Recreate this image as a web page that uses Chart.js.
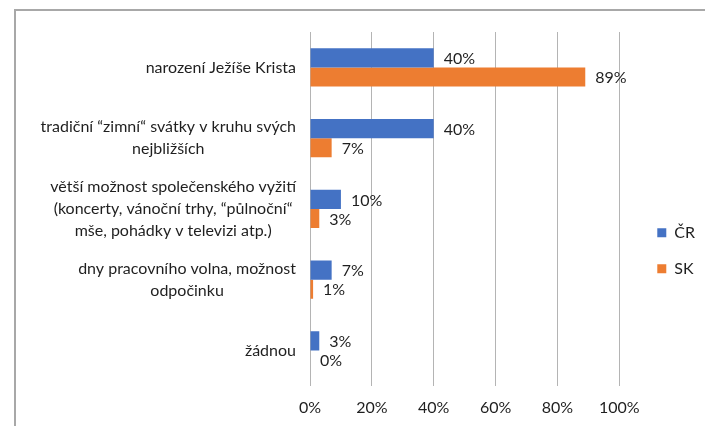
<!DOCTYPE html>
<html>
<head>
<meta charset="utf-8">
<script src="https://cdn.jsdelivr.net/npm/chart.js@4"></script>
<style>
html, body { margin: 0; padding: 0; background: #fff; overflow: hidden; }
#wrap { position: relative; width: 705px; height: 426px; overflow: hidden; }
#frame { position: absolute; left: 14px; top: 9px; width: 760px; height: 500px; border: 2px solid #a8a8a8; box-sizing: border-box; }
#chart { position: absolute; left: 0; top: 0; }
</style>
</head>
<body>
<div id="wrap">
  <div id="frame"></div>
  <canvas id="chart" width="705" height="438"></canvas>
</div>
<script>
// kategorie (víceřádkové popisky)
const categories = [
    ["narození Ježíše Krista"],
    ["tradiční “zimní“ svátky v kruhu svých", "nejbližších"],
    ["větší možnost společenského vyžití", "(koncerty, vánoční trhy, “půlnoční“", "mše, pohádky v televizi atp.)"],
    ["dny pracovního volna, možnost", "odpočinku"],
    ["žádnou"]
];
const seriesNames = ["ČR", "SK"];
const valuesCR = [40, 40, 10, 7, 3];
const valuesSK = [89, 7, 3, 1, 0];
const xTicks = [0, 20, 40, 60, 80, 100];

const FONT = "Lato";
const TEXT = "#1f1f1f";

// popisky kategorií - řádky centrované v bloku, blok zarovnaný vpravo
const categoryLabels = {
    id: "categoryLabels",
    afterDraw(chart) {
        const ctx = chart.ctx;
        const y = chart.scales.y;
        ctx.save();
        ctx.font = "16px " + FONT;
        ctx.fillStyle = TEXT;
        ctx.textAlign = "center";
        ctx.textBaseline = "middle";
        const right = y.right - 14;
        categories.forEach((lines, i) => {
            const w = Math.max(...lines.map(l => ctx.measureText(l).width));
            const cx = right - w / 2;
            const cy = y.getPixelForValue(i);
            lines.forEach((l, k) => {
                ctx.fillText(l, cx, cy + (k - (lines.length - 1) / 2) * 22);
            });
        });
        ctx.restore();
    }
};

// hodnoty za koncem sloupců
const barValues = {
    id: "barValues",
    afterDatasetsDraw(chart) {
        const ctx = chart.ctx;
        ctx.save();
        ctx.font = "16px " + FONT;
        ctx.fillStyle = TEXT;
        ctx.textAlign = "left";
        ctx.textBaseline = "middle";
        chart.data.datasets.forEach((ds, di) => {
            chart.getDatasetMeta(di).data.forEach((bar, i) => {
                ctx.fillText(ds.data[i] + "%", bar.x + 10, bar.y + 1);
            });
        });
        ctx.restore();
    }
};

const ctx = document.getElementById("chart").getContext("2d");
const chart = new Chart(ctx, {
    type: "bar",
    data: {
        labels: categories.map(l => l.join(" ")),
        datasets: [{
            label: seriesNames[0],
            data: valuesCR,
            backgroundColor: "#4472c4"
        }, {
            label: seriesNames[1],
            data: valuesSK,
            backgroundColor: "#ed7d31"
        }]
    },
    options: {
        indexAxis: "y",
        responsive: false,
        animation: false,
        devicePixelRatio: 1,
        categoryPercentage: 0.54,
        barPercentage: 1,
        layout: { padding: { top: 32, bottom: 9, left: 0, right: 0 } },
        scales: {
            x: {
                min: 0,
                max: 100,
                afterBuildTicks: s => { s.ticks = xTicks.map(v => ({ value: v })); },
                ticks: {
                    callback: v => v + "%",
                    font: { family: FONT, size: 16 },
                    color: TEXT,
                    padding: 12
                },
                grid: { color: "#b4b4b4", drawTicks: false },
                border: { display: false }
            },
            y: {
                afterFit: s => { s.width = 310; },
                ticks: { display: false },
                grid: { display: false },
                border: { color: "#b4b4b4" }
            },
            // prázdná mezera mezi grafem a legendou
            gap: {
                type: "category",
                position: "right",
                afterFit: s => { s.width = 18; },
                ticks: { display: false },
                grid: { display: false },
                border: { display: false }
            }
        },
        plugins: {
            legend: {
                position: "right",
                title: { display: true, text: "", padding: { top: 26, bottom: 0 } },
                labels: {
                    boxWidth: 9,
                    boxHeight: 9,
                    padding: 20,
                    color: TEXT,
                    font: { family: FONT, size: 16 }
                }
            },
            tooltip: { enabled: false }
        }
    },
    plugins: [categoryLabels, barValues]
});
</script>
</body>
</html>
